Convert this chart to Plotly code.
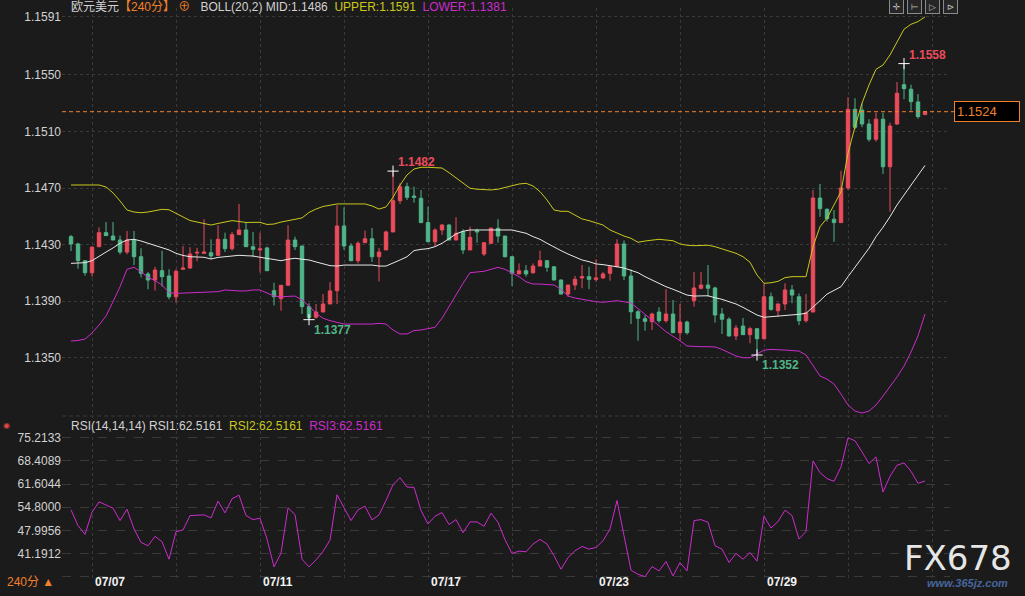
import plotly.graph_objects as go

# EUR/USD 4h candles (07/07 - 08/01)
opens = [1.14357, 1.14305, 1.14187, 1.14102, 1.14286, 1.14385, 1.14361, 1.14333, 1.14248, 1.14333,
         1.14215, 1.14093, 1.14050, 1.14116, 1.14079, 1.13932, 1.14126, 1.14135, 1.14241, 1.14239,
         1.14243, 1.14225, 1.14338, 1.14272, 1.14371, 1.14404, 1.14286, 1.14263, 1.14277, 1.13975,
         1.13918, 1.14013, 1.14333, 1.14291, 1.13862, 1.13787, 1.13824, 1.13881, 1.13975, 1.14432,
         1.14291, 1.14187, 1.14314, 1.14342, 1.14215, 1.14263, 1.14390, 1.14611, 1.14710, 1.14644,
         1.14628, 1.14456, 1.14321, 1.14404, 1.14439, 1.14333, 1.14392, 1.14263, 1.14399, 1.14234,
         1.14310, 1.14416, 1.14361, 1.14215, 1.14093, 1.14116, 1.14102, 1.14149, 1.14187, 1.14144,
         1.14050, 1.13951, 1.14015, 1.14065, 1.14074, 1.14055, 1.14065, 1.14098, 1.14144, 1.14305,
         1.14079, 1.13826, 1.13777, 1.13756, 1.13824, 1.13763, 1.13810, 1.13678, 1.13753, 1.13904,
         1.13992, 1.14015, 1.13994, 1.13810, 1.13773, 1.13655, 1.13725, 1.13664, 1.13706, 1.13635,
         1.13932, 1.13833, 1.13881, 1.13980, 1.13932, 1.13763, 1.13824, 1.14630, 1.14550, 1.14480,
         1.14456, 1.14701, 1.15257, 1.15252, 1.15153, 1.15045, 1.15187, 1.14851, 1.15153, 1.15431,
         1.15399, 1.15309, 1.15220]
highs = [1.14369, 1.14314, 1.14192, 1.14291, 1.14423, 1.14460, 1.14460, 1.14364, 1.14397, 1.14397,
         1.14275, 1.14107, 1.14144, 1.14258, 1.14126, 1.14126, 1.14291, 1.14282, 1.14277, 1.14480,
         1.14338, 1.14437, 1.14385, 1.14390, 1.14588, 1.14460, 1.14390, 1.14385, 1.14286, 1.14031,
         1.14013, 1.14437, 1.14357, 1.14291, 1.13886, 1.13881, 1.13951, 1.14036, 1.14579, 1.14564,
         1.14310, 1.14324, 1.14399, 1.14418, 1.14277, 1.14399, 1.14820, 1.14734, 1.14738, 1.14710,
         1.14687, 1.14569, 1.14416, 1.14446, 1.14446, 1.14494, 1.14409, 1.14427, 1.14413, 1.14314,
         1.14423, 1.14480, 1.14361, 1.14220, 1.14168, 1.14156, 1.14168, 1.14258, 1.14192, 1.14144,
         1.14055, 1.14015, 1.14079, 1.14156, 1.14144, 1.14197, 1.14107, 1.14144, 1.14338, 1.14330,
         1.14126, 1.13838, 1.13803, 1.13819, 1.13857, 1.13985, 1.13909, 1.13881, 1.13763, 1.14107,
         1.14107, 1.14156, 1.14003, 1.13852, 1.13787, 1.13732, 1.13782, 1.13720, 1.13706, 1.14027,
         1.13961, 1.13886, 1.14027, 1.14015, 1.13956, 1.13951, 1.14687, 1.14729, 1.14557, 1.14545,
         1.14823, 1.15342, 1.15335, 1.15300, 1.15187, 1.15233, 1.15233, 1.15163, 1.15450, 1.15580,
         1.15431, 1.15365, 1.15245]
lows = [1.14255, 1.14130, 1.14081, 1.14074, 1.14282, 1.14364, 1.14333, 1.14232, 1.14232, 1.14156,
        1.14069, 1.13985, 1.13975, 1.14003, 1.13914, 1.13890, 1.14126, 1.14130, 1.14183, 1.14239,
        1.14197, 1.14225, 1.14248, 1.14258, 1.14371, 1.14286, 1.14211, 1.14102, 1.14116, 1.13871,
        1.13833, 1.14013, 1.14263, 1.13810, 1.13770, 1.13777, 1.13824, 1.13881, 1.13881, 1.14263,
        1.14183, 1.14168, 1.14314, 1.14178, 1.14041, 1.14263, 1.14390, 1.14588, 1.14616, 1.14597,
        1.14456, 1.14321, 1.14291, 1.14369, 1.14333, 1.14333, 1.14234, 1.14263, 1.14314, 1.14220,
        1.14305, 1.14314, 1.14211, 1.14008, 1.14093, 1.14074, 1.14093, 1.14149, 1.14109, 1.14050,
        1.13951, 1.13932, 1.13980, 1.13992, 1.13985, 1.14038, 1.14060, 1.14046, 1.14144, 1.14050,
        1.13739, 1.13621, 1.13692, 1.13697, 1.13749, 1.13749, 1.13678, 1.13626, 1.13664, 1.13862,
        1.13985, 1.13932, 1.13749, 1.13669, 1.13650, 1.13626, 1.13664, 1.13603, 1.13520, 1.13635,
        1.13833, 1.13791, 1.13838, 1.13886, 1.13732, 1.13749, 1.13824, 1.14498, 1.14463, 1.14321,
        1.14456, 1.14687, 1.15116, 1.15130, 1.15028, 1.15028, 1.14800, 1.14533, 1.15146, 1.15328,
        1.15247, 1.15191, 1.15215]
closes = [1.14305, 1.14187, 1.14102, 1.14282, 1.14385, 1.14364, 1.14333, 1.14248, 1.14333, 1.14215,
          1.14098, 1.14050, 1.14121, 1.14074, 1.13932, 1.14112, 1.14135, 1.14234, 1.14246, 1.14248,
          1.14220, 1.14338, 1.14272, 1.14371, 1.14404, 1.14286, 1.14267, 1.14270, 1.14116, 1.13932,
          1.14013, 1.14333, 1.14286, 1.13862, 1.13785, 1.13824, 1.13881, 1.13973, 1.14432, 1.14291,
          1.14187, 1.14310, 1.14342, 1.14215, 1.14248, 1.14390, 1.14611, 1.14710, 1.14635, 1.14635,
          1.14456, 1.14321, 1.14404, 1.14439, 1.14333, 1.14381, 1.14263, 1.14352, 1.14390, 1.14314,
          1.14416, 1.14361, 1.14215, 1.14098, 1.14116, 1.14093, 1.14149, 1.14187, 1.14140, 1.14050,
          1.13951, 1.14015, 1.14055, 1.14074, 1.14055, 1.14065, 1.14093, 1.14144, 1.14305, 1.14079,
          1.13826, 1.13780, 1.13758, 1.13810, 1.13763, 1.13810, 1.13678, 1.13753, 1.13678, 1.13994,
          1.14015, 1.13992, 1.13803, 1.13773, 1.13655, 1.13711, 1.13664, 1.13706, 1.13635, 1.13932,
          1.13843, 1.13881, 1.13980, 1.13944, 1.13763, 1.13819, 1.14630, 1.14555, 1.14484, 1.14456,
          1.14701, 1.15257, 1.15130, 1.15153, 1.15045, 1.15187, 1.14851, 1.15139, 1.15370, 1.15403,
          1.15311, 1.15205, 1.15240]

# BOLL(20,2)
boll_mid = [1.14168, 1.14171, 1.14173, 1.14187, 1.14220, 1.14248, 1.14277, 1.14310, 1.14333, 1.14338,
            1.14326, 1.14310, 1.14298, 1.14282, 1.14263, 1.14239, 1.14224, 1.14215, 1.14215, 1.14211,
            1.14199, 1.14210, 1.14215, 1.14220, 1.14225, 1.14222, 1.14220, 1.14211, 1.14204, 1.14197,
            1.14187, 1.14197, 1.14204, 1.14197, 1.14192, 1.14178, 1.14164, 1.14152, 1.14149, 1.14156,
            1.14156, 1.14154, 1.14156, 1.14156, 1.14149, 1.14149, 1.14173, 1.14192, 1.14215, 1.14258,
            1.14267, 1.14272, 1.14286, 1.14310, 1.14342, 1.14376, 1.14395, 1.14404, 1.14404, 1.14404,
            1.14409, 1.14409, 1.14409, 1.14404, 1.14392, 1.14381, 1.14357, 1.14338, 1.14310, 1.14282,
            1.14258, 1.14234, 1.14211, 1.14192, 1.14180, 1.14164, 1.14159, 1.14154, 1.14144, 1.14135,
            1.14116, 1.14102, 1.14074, 1.14050, 1.14027, 1.14003, 1.13985, 1.13963, 1.13944, 1.13937,
            1.13939, 1.13939, 1.13925, 1.13914, 1.13897, 1.13881, 1.13857, 1.13831, 1.13803, 1.13787,
            1.13791, 1.13791, 1.13798, 1.13803, 1.13808, 1.13815, 1.13857, 1.13904, 1.13951, 1.13975,
            1.14003, 1.14074, 1.14144, 1.14211, 1.14275, 1.14357, 1.14423, 1.14498, 1.14581, 1.14651,
            1.14722, 1.14788, 1.14860]
boll_upper = [1.14722, 1.14722, 1.14722, 1.14726, 1.14722, 1.14708, 1.14666, 1.14609, 1.14545, 1.14531,
              1.14526, 1.14531, 1.14542, 1.14550, 1.14547, 1.14524, 1.14496, 1.14471, 1.14460, 1.14446,
              1.14439, 1.14450, 1.14460, 1.14470, 1.14464, 1.14457, 1.14458, 1.14458, 1.14443, 1.14446,
              1.14460, 1.14468, 1.14478, 1.14489, 1.14528, 1.14552, 1.14570, 1.14581, 1.14588, 1.14588,
              1.14588, 1.14588, 1.14588, 1.14574, 1.14552, 1.14567, 1.14635, 1.14722, 1.14793, 1.14835,
              1.14847, 1.14847, 1.14847, 1.14842, 1.14809, 1.14772, 1.14734, 1.14699, 1.14692, 1.14687,
              1.14687, 1.14692, 1.14706, 1.14720, 1.14729, 1.14734, 1.14715, 1.14675, 1.14616, 1.14545,
              1.14536, 1.14536, 1.14510, 1.14482, 1.14470, 1.14456, 1.14439, 1.14404, 1.14381, 1.14361,
              1.14345, 1.14317, 1.14326, 1.14333, 1.14338, 1.14333, 1.14328, 1.14305, 1.14296, 1.14293,
              1.14293, 1.14296, 1.14286, 1.14270, 1.14253, 1.14239, 1.14215, 1.14176, 1.14086, 1.14027,
              1.14031, 1.14041, 1.14067, 1.14074, 1.14074, 1.14074, 1.14286, 1.14427, 1.14487, 1.14581,
              1.14675, 1.14946, 1.15134, 1.15300, 1.15429, 1.15540, 1.15570, 1.15641, 1.15728, 1.15823,
              1.15858, 1.15877, 1.15910]
boll_lower = [1.13619, 1.13623, 1.13633, 1.13676, 1.13732, 1.13796, 1.13897, 1.14003, 1.14126, 1.14140,
              1.14109, 1.14069, 1.14046, 1.14015, 1.13961, 1.13956, 1.13958, 1.13961, 1.13963, 1.13966,
              1.13966, 1.13968, 1.13980, 1.13975, 1.13973, 1.13973, 1.13980, 1.13980, 1.13961, 1.13937,
              1.13932, 1.13932, 1.13937, 1.13909, 1.13867, 1.13815, 1.13780, 1.13763, 1.13749, 1.13739,
              1.13739, 1.13739, 1.13737, 1.13739, 1.13744, 1.13739, 1.13697, 1.13669, 1.13669, 1.13693,
              1.13697, 1.13706, 1.13716, 1.13780, 1.13862, 1.13951, 1.14027, 1.14102, 1.14107, 1.14112,
              1.14126, 1.14140, 1.14126, 1.14098, 1.14074, 1.14038, 1.14022, 1.14022, 1.14020, 1.14015,
              1.13985, 1.13937, 1.13923, 1.13914, 1.13909, 1.13897, 1.13893, 1.13897, 1.13904, 1.13897,
              1.13888, 1.13848, 1.13808, 1.13773, 1.13727, 1.13685, 1.13655, 1.13621, 1.13584, 1.13579,
              1.13579, 1.13579, 1.13577, 1.13560, 1.13536, 1.13513, 1.13501, 1.13501, 1.13527, 1.13555,
              1.13560, 1.13560, 1.13555, 1.13552, 1.13548, 1.13520, 1.13442, 1.13372, 1.13350, 1.13315,
              1.13244, 1.13167, 1.13124, 1.13110, 1.13124, 1.13167, 1.13230, 1.13294, 1.13365, 1.13442,
              1.13541, 1.13655, 1.13810]

# RSI(14,14,14) - the three lines coincide
rsi = [54.03, 49.39, 46.83, 53.34, 56.39, 55.50, 54.52, 50.87, 54.22, 48.41,
       44.46, 43.48, 46.24, 44.66, 39.53, 47.62, 48.11, 52.35, 52.55, 52.55,
       51.66, 56.59, 53.14, 57.28, 58.36, 52.35, 51.17, 51.56, 45.45, 37.26,
       41.31, 54.62, 52.65, 39.53, 37.26, 39.33, 41.80, 45.15, 58.46, 54.52,
       50.87, 54.03, 55.11, 51.07, 52.55, 56.79, 61.42, 63.49, 60.73, 60.63,
       53.83, 49.88, 52.15, 53.24, 49.69, 51.17, 47.32, 50.48, 50.48, 49.19,
       53.04, 50.38, 45.25, 41.21, 41.90, 41.70, 43.97, 45.35, 43.97, 40.52,
       36.57, 40.02, 42.00, 43.28, 42.49, 42.98, 44.95, 48.41, 56.79, 46.43,
       36.28, 35.09, 34.39, 37.36, 36.08, 38.84, 34.60, 38.55, 36.08, 50.87,
       51.17, 50.38, 43.48, 42.49, 38.55, 41.21, 39.53, 41.50, 38.94, 52.15,
       48.70, 50.58, 53.93, 52.35, 45.45, 47.72, 68.42, 64.97, 63.20, 62.41,
       66.65, 75.2133, 74.34, 71.08, 67.63, 69.60, 59.25, 63.89, 67.14, 67.83,
       65.37, 61.82, 62.5161]

price_ticks = [1.1591, 1.1550, 1.1510, 1.1470, 1.1430, 1.1390, 1.1350]
rsi_ticks = [75.2133, 68.4089, 61.6044, 54.8000, 47.9956, 41.1912, 34.3869]
date_labels = ["07/07", "07/11", "07/17", "07/23", "07/29"]
date_idx = [6, 30, 54, 78, 102]
high_marks = [46, 119]
low_marks = [34, 98]

UP = "#eb4c5c"
DOWN = "#50b689"
BG = "#1b1b1b"
GRID = "#3a3a3a"
TXT = "#d2d2d2"
ORANGE = "#f0802c"
YELLOW = "#c8c81e"
MAGENTA = "#cc2ccc"
FONT = "Liberation Sans, Noto Sans CJK SC, sans-serif"

x = list(range(len(opens)))
W, H = 1025, 596
L, R = 62, 75


def py(px):  # pixel row -> paper y
    return 1 - px / H


def pxx(px):  # pixel column -> paper x
    return (px - L) / (W - L - R)


fig = go.Figure()

fig.add_trace(go.Candlestick(
    x=x, open=opens, high=highs, low=lows, close=closes,
    increasing=dict(line=dict(color=UP, width=1), fillcolor=UP),
    decreasing=dict(line=dict(color=DOWN, width=1), fillcolor=DOWN),
    whiskerwidth=0, showlegend=False, xaxis="x", yaxis="y"))

for vals, col in [(boll_upper, YELLOW), (boll_mid, "#e8e8e8"), (boll_lower, MAGENTA)]:
    fig.add_trace(go.Scatter(x=x, y=vals, mode="lines", line=dict(color=col, width=1),
                             showlegend=False, hoverinfo="skip", xaxis="x", yaxis="y"))

mk_x = [i for i in high_marks] + [i for i in low_marks]
mk_y = [highs[i] for i in high_marks] + [lows[i] for i in low_marks]
fig.add_trace(go.Scatter(x=mk_x, y=mk_y, mode="markers",
                         marker=dict(symbol="cross-thin", size=8, line=dict(color="white", width=1)),
                         showlegend=False, hoverinfo="skip", xaxis="x", yaxis="y"))

fig.add_trace(go.Scatter(x=x, y=rsi, mode="lines", line=dict(color=MAGENTA, width=1),
                         showlegend=False, xaxis="x2", yaxis="y3"))

xr = [-1.29, 125.57]
price_range = [1.13075, 1.15973]
rsi_range = [34.0, 78.97]
xgrid = dict(range=xr, showticklabels=False, tickmode="linear", tick0=3, dtick=12,
             showgrid=True, gridcolor=GRID, griddash="dot", zeroline=False, ticks="",
             showline=False)
tickfont = dict(family=FONT, size=12, color=TXT)

fig.update_layout(
    width=W, height=H,
    margin=dict(l=L, r=R, t=0, b=0),
    paper_bgcolor=BG, plot_bgcolor=BG,
    xaxis=dict(xgrid, anchor="y", rangeslider=dict(visible=False)),
    xaxis2=dict(xgrid, anchor="y3", matches="x"),
    yaxis=dict(domain=[py(418), py(8)], range=price_range, tickvals=price_ticks,
               ticktext=[f"{v:.4f}" for v in price_ticks], side="left",
               gridcolor=GRID, griddash="dot", zeroline=False, tickfont=tickfont,
               ticks="", ticklabelstandoff=0),
    yaxis2=dict(overlaying="y", anchor="x", side="right", range=price_range,
                tickvals=price_ticks, ticktext=[f"{v:.4f}" for v in price_ticks],
                showgrid=False, zeroline=False, tickfont=tickfont, ticks="",
                ticklabelstandoff=5),
    yaxis3=dict(domain=[py(578), py(425)], range=rsi_range, tickvals=rsi_ticks,
                ticktext=[f"{v:.4f}" for v in rsi_ticks[:-1]] + [""], side="left",
                gridcolor=GRID, griddash="dash", zeroline=False, tickfont=tickfont,
                ticks="", ticklabelstandoff=0),
    yaxis4=dict(overlaying="y3", anchor="x2", side="right", range=rsi_range,
                tickvals=rsi_ticks, ticktext=[f"{v:.4f}" for v in rsi_ticks[:-1]] + [""],
                showgrid=False, zeroline=False, tickfont=tickfont, ticks="",
                ticklabelstandoff=5),
    font=dict(family=FONT, color=TXT),
    hovermode=False,
)

ann = []
header = (f"欧元美元<span style='color:{ORANGE}'>【240分】 ⊕</span>   "
          f"BOLL(20,2) MID:{boll_mid[-1]:.4f}  "
          f"<span style='color:{YELLOW}'>UPPER:{boll_upper[-1]:.4f}</span>  "
          f"<span style='color:{MAGENTA}'>LOWER:{boll_lower[-1]:.4f}</span>")
ann.append(dict(text=header, xref="paper", yref="paper", x=pxx(69), y=py(7),
                xanchor="left", yanchor="middle", showarrow=False,
                font=dict(family=FONT, size=12, color=TXT)))
rsi_head = (f"RSI(14,14,14) RSI1:{rsi[-1]:.4f}  "
            f"<span style='color:{YELLOW}'>RSI2:{rsi[-1]:.4f}</span>  "
            f"<span style='color:{MAGENTA}'>RSI3:{rsi[-1]:.4f}</span>")
ann.append(dict(text=rsi_head, xref="paper", yref="paper", x=pxx(69), y=py(426),
                xanchor="left", yanchor="middle", showarrow=False,
                font=dict(family=FONT, size=12, color=TXT)))

for i in high_marks:
    ann.append(dict(text=f"<b>{highs[i]:.4f}</b>", x=i, y=highs[i], xref="x", yref="y",
                    xanchor="left", yanchor="bottom", xshift=3, yshift=0, showarrow=False,
                    font=dict(family=FONT, size=12, color=UP)))
for i in low_marks:
    ann.append(dict(text=f"<b>{lows[i]:.4f}</b>", x=i, y=lows[i], xref="x", yref="y",
                    xanchor="left", yanchor="top", xshift=3, yshift=-1, showarrow=False,
                    font=dict(family=FONT, size=12, color=DOWN)))

for lab, i in zip(date_labels, date_idx):
    ann.append(dict(text=f"<b>{lab}</b>", x=i - 0.5, y=py(582), xref="x2", yref="paper",
                    xanchor="center", yanchor="middle", showarrow=False,
                    font=dict(family=FONT, size=12, color="#f2f2f2")))

# current price box
ann.append(dict(text=f"{closes[-1]:.4f}", x=pxx(954), y=closes[-1], xref="paper", yref="y",
                xanchor="left", yanchor="middle", showarrow=False, align="left",
                bgcolor="#000000", bordercolor=ORANGE, borderwidth=1, borderpad=2, width=60,
                font=dict(family=FONT, size=13, color=ORANGE)))

ann.append(dict(text="240分 ▲", x=pxx(5), y=py(582), xref="paper", yref="paper",
                xanchor="left", yanchor="middle", showarrow=False,
                font=dict(family=FONT, size=12, color=ORANGE)))
ann.append(dict(text="◉", x=pxx(6), y=py(425), xref="paper", yref="paper",
                xanchor="center", yanchor="middle", showarrow=False,
                font=dict(family="DejaVu Sans", size=8, color="#e04848")))
ann.append(dict(text="FX678", x=pxx(958), y=py(558), xref="paper", yref="paper",
                xanchor="center", yanchor="middle", showarrow=False,
                font=dict(family="DejaVu Sans", size=34, color="#e6e6e6")))
ann.append(dict(text="<b><i>www.365jz.com</i></b>", x=pxx(968), y=py(583), xref="paper",
                yref="paper", xanchor="center", yanchor="middle", showarrow=False,
                font=dict(family="Liberation Sans", size=11, color="#46669c")))
for k, g in enumerate(["✛", "⊢", "▷", "⊳"]):
    ann.append(dict(text=g, x=pxx(896 + 18 * k), y=py(7), xref="paper", yref="paper",
                    xanchor="center", yanchor="middle", showarrow=False, width=13, height=13,
                    bordercolor="#8a8a8a", borderwidth=1, borderpad=0, bgcolor="#262626",
                    font=dict(family="DejaVu Sans", size=9, color="#bbbbbb")))

fig.update_layout(annotations=ann)

fig.add_shape(type="line", xref="paper", yref="y", x0=0, x1=pxx(1020),
              y0=closes[-1], y1=closes[-1], line=dict(color=ORANGE, width=1, dash="4px,3px"))
fig.add_shape(type="line", xref="paper", yref="paper", x0=0, x1=1, y0=py(416), y1=py(416),
              line=dict(color=GRID, width=1, dash="4px,3px"))

fig.write_html("out.html", config={"displayModeBar": False},
               post_script="document.body.style.margin='0px';"
               "document.body.style.background='" + BG + "';")
